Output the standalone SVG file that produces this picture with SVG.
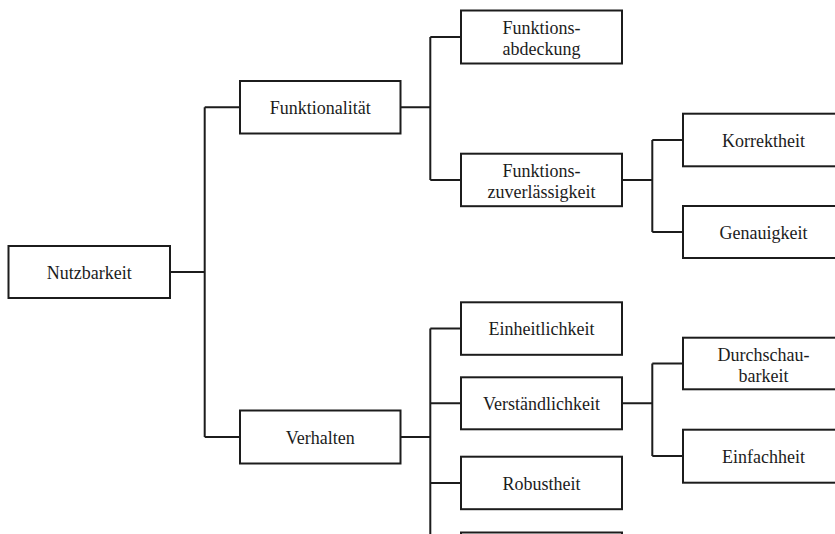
<svg xmlns="http://www.w3.org/2000/svg" width="835" height="534" viewBox="0 0 835 534">
  <style>
    .box { fill: #ffffff; stroke: #1c1c1c; stroke-width: 2; }
    .lbl { font-family: 'Liberation Serif', 'Times New Roman', Times, 'DejaVu Serif', serif; font-size: 18px; fill: #1c1c1c; text-anchor: middle; }
    .wire { fill: none; stroke: #1c1c1c; stroke-width: 2; }
  </style>
  <rect width="835" height="534" fill="#ffffff"/>

  <!-- connectors -->
  <g id="connectors" class="wire">
    <path d="M170 272 H204.7 M204.7 107.3 V437 M204.7 107.3 H240 M204.7 437 H240"/>
    <path d="M400.5 107.3 H430.3 M430.3 37 V180 M430.3 37 H461 M430.3 180 H461"/>
    <path d="M622 180 H652.3 M652.3 140 V232 M652.3 140 H683 M652.3 232 H683"/>
    <path d="M400.5 437 H430.3 M430.3 328.5 V545 M430.3 328.5 H461 M430.3 403.3 H461 M430.3 483 H461"/>
    <path d="M622 403.3 H652.3 M652.3 363.5 V456 M652.3 363.5 H683 M652.3 456 H683"/>
  </g>

  <g font-family="'Liberation Serif', 'Times New Roman', Times, serif">
  <!-- root -->
  <g id="nutzbarkeit">
    <rect class="box" x="8.5" y="246" width="161.5" height="52"/>
    <text class="lbl" x="89.2" y="278.5">Nutzbarkeit</text>
  </g>

  <!-- level 1 -->
  <g id="funktionalitaet">
    <rect class="box" x="240" y="81" width="160.5" height="52.5"/>
    <text class="lbl" x="320.2" y="113.8">Funktionalität</text>
  </g>
  <g id="verhalten">
    <rect class="box" x="240" y="410.5" width="160.5" height="53"/>
    <text class="lbl" x="320.2" y="443.5">Verhalten</text>
  </g>

  <!-- level 2 -->
  <g id="funktionsabdeckung">
    <rect class="box" x="461" y="10.5" width="161" height="53"/>
    <text class="lbl" x="541.5" y="33.5">Funktions-</text>
    <text class="lbl" x="541.5" y="54.5">abdeckung</text>
  </g>
  <g id="funktionszuverlaessigkeit">
    <rect class="box" x="461" y="153.7" width="161" height="52.5"/>
    <text class="lbl" x="541.5" y="176.6">Funktions-</text>
    <text class="lbl" x="541.5" y="197.6">zuverlässigkeit</text>
  </g>
  <g id="einheitlichkeit">
    <rect class="box" x="461" y="302.3" width="161" height="52.5"/>
    <text class="lbl" x="541.5" y="335">Einheitlichkeit</text>
  </g>
  <g id="verstaendlichkeit">
    <rect class="box" x="461" y="377.3" width="161" height="52"/>
    <text class="lbl" x="541.5" y="409.8">Verständlichkeit</text>
  </g>
  <g id="robustheit">
    <rect class="box" x="461" y="456.7" width="161" height="52.5"/>
    <text class="lbl" x="541.5" y="489.5">Robustheit</text>
  </g>
  <g id="weiterer-knoten">
    <rect class="box" x="461" y="532.5" width="161" height="52.5"/>
  </g>

  <!-- level 3 -->
  <g id="korrektheit">
    <rect class="box" x="683" y="113.7" width="161" height="52.6"/>
    <text class="lbl" x="763.5" y="146.5">Korrektheit</text>
  </g>
  <g id="genauigkeit">
    <rect class="box" x="683" y="206" width="161" height="52"/>
    <text class="lbl" x="763.5" y="238.5">Genauigkeit</text>
  </g>
  <g id="durchschaubarkeit">
    <rect class="box" x="683" y="337.7" width="161" height="51.6"/>
    <text class="lbl" x="763.5" y="360.8">Durchschau-</text>
    <text class="lbl" x="763.5" y="381.6">barkeit</text>
  </g>
  <g id="einfachheit">
    <rect class="box" x="683" y="429.7" width="161" height="53"/>
    <text class="lbl" x="763.5" y="462.5">Einfachheit</text>
  </g>
  </g>
</svg>
